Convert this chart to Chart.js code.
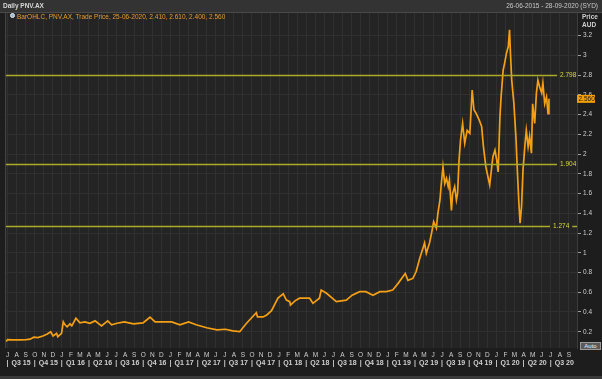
<!DOCTYPE html>
<html>
<head>
<meta charset="utf-8">
<script src="https://cdn.jsdelivr.net/npm/chart.js@4.4.1/dist/chart.umd.min.js"></script>
<style>
  body { margin: 0; background: #1d1d1d; font-family: "Liberation Sans", Arial, sans-serif; }
  #wrap { position: relative; width: 602px; height: 379px; overflow: hidden; background: #1d1d1d; }
  #c { position: absolute; left: 0; top: 0; }
  .titlebar { position: absolute; left: 0; top: 0; width: 602px; height: 12px; background: #333; border-bottom: 1px solid #4a4a4a; }
  .title { position: absolute; left: 3px; top: 2px; font-size: 6.5px; font-weight: bold; color: #d8d8d8; }
  .range { position: absolute; right: 4px; top: 2px; font-size: 6.5px; color: #c8c8c8; }
  .legend { position: absolute; left: 17px; top: 13px; font-size: 6.5px; color: #e89a2c; }
  .icon { position: absolute; left: 10px; top: 13px; width: 5px; height: 5px; border-radius: 50%; background: #9fb8d0; border: 1px solid #dfe8f0; box-sizing: border-box; }
  .unit { position: absolute; left: 582px; font-size: 6.5px; font-weight: bold; color: #d0d0d0; }
  .auto { position: absolute; left: 580px; top: 342px; width: 21px; height: 8px; background: #5a5a5a; border: 1px solid #9a9a9a; box-sizing: border-box; color: #f0f0f0; font-size: 6px; line-height: 6px; text-align: center; }
  .bottom { position: absolute; left: 0; top: 376px; width: 602px; height: 3px; background: #3a3a3a; }
</style>
</head>
<body>
<div id="wrap">
  <canvas id="c" width="602" height="379"></canvas>
  <div class="titlebar"></div>
  <div class="title">Daily PNV.AX</div>
  <div class="range">26-06-2015 - 28-09-2020 (SYD)</div>
  <div class="icon"></div>
  <div class="legend">BarOHLC, PNV.AX, Trade Price, 25-06-2020, 2.410, 2.610, 2.400, 2.560</div>
  <div class="unit" style="top:13px">Price</div>
  <div class="unit" style="top:21px">AUD</div>
  <div class="auto">Auto</div>
  <div class="bottom"></div>
</div>
<script>
// price (trade price, AUD)
const DATES = [
  '2015-06-26','2015-07-01','2015-07-20','2015-08-13','2015-09-03','2015-09-16','2015-09-28','2015-10-12',
  '2015-10-29','2015-11-13','2015-11-24','2015-12-02','2015-12-14','2015-12-18','2015-12-31','2016-01-06',
  '2016-01-12','2016-01-19','2016-01-29','2016-02-04','2016-02-17','2016-03-01','2016-03-18','2016-04-04',
  '2016-04-21','2016-05-13','2016-06-03','2016-06-16','2016-07-04','2016-07-29','2016-08-29','2016-09-30',
  '2016-10-24','2016-11-10','2016-12-07','2017-01-05','2017-02-02','2017-03-01','2017-03-27','2017-05-01',
  '2017-06-05','2017-07-03','2017-07-28','2017-08-21','2017-09-13','2017-10-16','2017-10-20','2017-11-08',
  '2017-11-20','2017-12-06','2017-12-28','2018-01-15','2018-01-26','2018-02-06','2018-02-08','2018-02-23',
  '2018-03-09','2018-04-12','2018-04-23','2018-05-15','2018-05-21','2018-06-08','2018-07-11','2018-08-14',
  '2018-09-03','2018-09-28','2018-10-19','2018-11-12','2018-12-05','2018-12-27','2019-01-18','2019-02-05',
  '2019-02-27','2019-03-08','2019-03-25','2019-04-05','2019-04-17','2019-04-29','2019-05-03','2019-05-09',
  '2019-05-20','2019-05-27','2019-06-03','2019-06-12','2019-06-17','2019-06-24','2019-06-28','2019-07-04',
  '2019-07-10','2019-07-16','2019-07-22','2019-07-26','2019-08-02','2019-08-06','2019-08-13','2019-08-19',
  '2019-08-23','2019-08-28','2019-09-02','2019-09-09','2019-09-16','2019-09-24','2019-10-03','2019-10-11',
  '2019-10-17','2019-10-25','2019-11-04','2019-11-12','2019-11-18','2019-11-26','2019-12-03','2019-12-09',
  '2019-12-16','2019-12-20','2019-12-27','2020-01-02','2020-01-07','2020-01-13','2020-01-17','2020-01-24',
  '2020-01-29','2020-02-04','2020-02-10','2020-02-14','2020-02-17','2020-02-21','2020-02-28','2020-03-02',
  '2020-03-06','2020-03-11','2020-03-16','2020-03-20','2020-03-25','2020-03-30','2020-04-06','2020-04-10',
  '2020-04-16','2020-04-21','2020-04-27','2020-05-01','2020-05-08','2020-05-14','2020-05-19','2020-05-25',
  '2020-06-01','2020-06-05','2020-06-11','2020-06-17','2020-06-22','2020-06-25'
];
const PRICES = [
  0.10, 0.12, 0.117, 0.117, 0.12, 0.124, 0.144, 0.14,
  0.157, 0.177, 0.20, 0.157, 0.184, 0.15, 0.184, 0.30,
  0.27, 0.25, 0.28, 0.26, 0.336, 0.29, 0.30, 0.286,
  0.31, 0.258, 0.31, 0.27, 0.286, 0.30, 0.28, 0.29,
  0.347, 0.30, 0.30, 0.30, 0.27, 0.30, 0.27, 0.24,
  0.218, 0.225, 0.208, 0.20, 0.286, 0.393, 0.35, 0.35,
  0.37, 0.413, 0.54, 0.583, 0.52, 0.505, 0.47, 0.515,
  0.54, 0.54, 0.488, 0.54, 0.623, 0.59, 0.505, 0.52,
  0.57, 0.606, 0.606, 0.57, 0.606, 0.606, 0.623, 0.69,
  0.79, 0.72, 0.74, 0.81, 0.944, 1.06, 1.10, 0.995,
  1.10, 1.20, 1.315, 1.25, 1.40, 1.535, 1.687, 1.87,
  1.70, 1.755, 1.67, 1.737, 1.43, 1.60, 1.67, 1.535,
  1.60, 1.94, 2.14, 2.31, 2.11, 2.24, 2.21, 2.65,
  2.45, 2.41, 2.345, 2.28, 2.075, 1.87, 1.77, 1.687,
  1.87, 1.974, 2.04, 1.94, 1.82, 2.38, 2.58, 2.85,
  2.92, 3.02, 3.09, 3.26, 3.02, 2.75, 2.51, 2.36,
  2.16, 1.81, 1.50, 1.30, 1.467, 1.84, 2.11, 2.24,
  2.075, 2.18, 2.01, 2.51, 2.31, 2.62, 2.75, 2.68,
  2.62, 2.72, 2.51, 2.58, 2.41, 2.56
];
const MONTH_LETTERS = ['J','F','M','A','M','J','J','A','S','O','N','D'];
const QUARTER_LABELS = ['Q3 15','Q4 15','Q1 16','Q2 16','Q3 16','Q4 16','Q1 17','Q2 17','Q3 17','Q4 17',
  'Q1 18','Q2 18','Q3 18','Q4 18','Q1 19','Q2 19','Q3 19','Q4 19','Q1 20','Q2 20','Q3 20'];
const Y_TICKS = [0.2,0.4,0.6,0.8,1,1.2,1.4,1.6,1.8,2,2.2,2.4,2.6,2.8,3,3.2];
const LEVELS = [2.798, 1.904, 1.274];
const LAST_CLOSE = 2.56;
const RANGE_START = '2015-06-26';
const RANGE_END = '2020-09-28';

// months since 1 Jul 2015
function toMonth(s) {
  const [y, m, d] = s.split('-').map(Number);
  const dim = new Date(y, m, 0).getDate();
  return (y - 2015) * 12 + (m - 7) + (d - 1) / dim;
}

const FONT = '"Liberation Sans", Arial, sans-serif';
const points = DATES.map((d, i) => ({ x: toMonth(d), y: PRICES[i] }));
const monthTicks = [];
for (let m = 0; m <= 62; m++) monthTicks.push(m);

const chrome = {
  id: 'chrome',
  beforeDraw(chart) {
    const { ctx, chartArea: a } = chart;
    ctx.save();
    ctx.fillStyle = '#242424';
    ctx.fillRect(a.left, a.top, a.right - a.left, a.bottom - a.top);
    ctx.fillStyle = '#444';
    ctx.fillRect(a.left - 1, a.top, 1, a.bottom - a.top);
    ctx.restore();
  },
  afterDatasetsDraw(chart) {
    const { ctx, chartArea: a, scales } = chart;
    const y = scales.y, x = scales.x;
    ctx.save();
    ctx.font = '6.5px ' + FONT;
    ctx.textBaseline = 'middle';
    LEVELS.forEach((lv, i) => {
      const py = Math.round(y.getPixelForValue(lv)) + 0.5;
      const txt = lv.toFixed(3);
      const w = ctx.measureText(txt).width;
      const end = i === 2 ? a.right - 27 : a.right - 20;
      ctx.strokeStyle = 'rgb(170,170,40)';
      ctx.lineWidth = 1.5;
      ctx.beginPath();
      ctx.moveTo(a.left, py); ctx.lineTo(end, py);
      if (i === 2) { ctx.moveTo(end + w + 6, py); ctx.lineTo(a.right, py); }
      ctx.stroke();
      ctx.fillStyle = '#d6d63c';
      ctx.textAlign = 'left';
      ctx.fillText(txt, end + 3, py);
    });
    // last close box on the price axis
    const cy = y.getPixelForValue(LAST_CLOSE);
    ctx.fillStyle = '#f5a000';
    ctx.fillRect(a.right, cy - 4, 18, 8);
    ctx.fillStyle = '#1a1a1a';
    ctx.font = '6.5px ' + FONT;
    ctx.textAlign = 'left';
    ctx.fillText(LAST_CLOSE.toFixed(3), a.right + 1.5, cy);
    // quarter row
    ctx.fillStyle = '#cfcfcf';
    ctx.font = 'bold 7px ' + FONT;
    ctx.textAlign = 'center';
    const qy = a.bottom + 15;
    QUARTER_LABELS.forEach((q, i) => {
      ctx.fillText('|', x.getPixelForValue(i * 3), qy);
      ctx.fillText(q, x.getPixelForValue(i * 3 + 1.5), qy);
    });
    ctx.restore();
  }
};

new Chart(document.getElementById('c'), {
  type: 'line',
  data: {
    datasets: [{
      label: 'PNV.AX',
      data: points,
      borderColor: 'rgb(245,160,20)',
      borderWidth: 1.7,
      pointRadius: 0,
      tension: 0
    }]
  },
  options: {
    responsive: false,
    animation: false,
    layout: { padding: { left: 6, top: 13, right: 0, bottom: 0 } },
    plugins: { legend: { display: false }, tooltip: { enabled: false } },
    scales: {
      x: {
        type: 'linear',
        min: toMonth(RANGE_START),
        max: toMonth(RANGE_END),
        afterBuildTicks: s => { s.ticks = monthTicks.map(v => ({ value: v })); },
        afterFit: s => { s.height = 31; },
        grid: { color: '#303030', drawTicks: false },
        border: { display: false },
        ticks: {
          autoSkip: false, maxRotation: 0, padding: 3,
          color: '#cfcfcf', font: { family: FONT, size: 6.5 },
          callback: v => MONTH_LETTERS[(v + 6) % 12]
        }
      },
      y: {
        position: 'right',
        min: 0.035,
        max: 3.43,
        afterBuildTicks: s => { s.ticks = Y_TICKS.map(v => ({ value: v })); },
        afterFit: s => { s.width = 25; },
        grid: { color: '#303030', tickColor: '#a0a0a0', tickLength: 4 },
        border: { color: '#3c3c3c' },
        ticks: {
          padding: 2, color: '#cfcfcf', font: { family: FONT, size: 6.5 },
          callback: v => String(Number(v.toFixed(1)))
        }
      }
    }
  },
  plugins: [chrome]
});
</script>
</body>
</html>
